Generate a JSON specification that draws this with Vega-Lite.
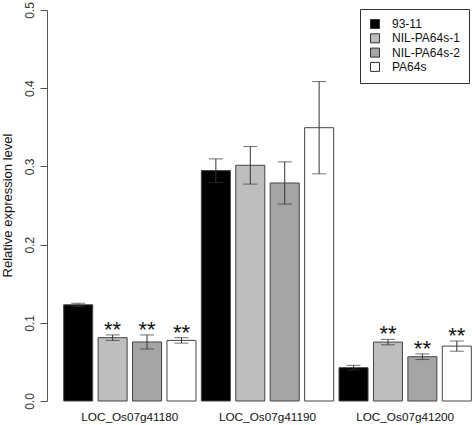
{
  "$schema": "https://vega.github.io/schema/vega-lite/v6.json",
  "width": 425,
  "height": 391,
  "autosize": "none",
  "padding": {"left": 47, "top": 10, "right": 0, "bottom": 24},
  "background": "white",
  "config": {"view": {"stroke": null}, "font": "Liberation Sans"},
  "data": {"values": [
    {"gene": "LOC_Os07g41180", "genotype": "93-11", "value": 0.123, "lo": 0.121, "hi": 0.125, "sig": ""},
    {"gene": "LOC_Os07g41180", "genotype": "NIL-PA64s-1", "value": 0.081, "lo": 0.0775, "hi": 0.0845, "sig": "**"},
    {"gene": "LOC_Os07g41180", "genotype": "NIL-PA64s-2", "value": 0.0755, "lo": 0.0665, "hi": 0.0845, "sig": "**"},
    {"gene": "LOC_Os07g41180", "genotype": "PA64s", "value": 0.0775, "lo": 0.074, "hi": 0.081, "sig": "**"},
    {"gene": "LOC_Os07g41190", "genotype": "93-11", "value": 0.2946, "lo": 0.2796, "hi": 0.3096, "sig": ""},
    {"gene": "LOC_Os07g41190", "genotype": "NIL-PA64s-1", "value": 0.3014, "lo": 0.2774, "hi": 0.3254, "sig": ""},
    {"gene": "LOC_Os07g41190", "genotype": "NIL-PA64s-2", "value": 0.2788, "lo": 0.2518, "hi": 0.3058, "sig": ""},
    {"gene": "LOC_Os07g41190", "genotype": "PA64s", "value": 0.3495, "lo": 0.2905, "hi": 0.4085, "sig": ""},
    {"gene": "LOC_Os07g41200", "genotype": "93-11", "value": 0.0426, "lo": 0.0396, "hi": 0.0456, "sig": ""},
    {"gene": "LOC_Os07g41200", "genotype": "NIL-PA64s-1", "value": 0.0753, "lo": 0.0718, "hi": 0.0788, "sig": "**"},
    {"gene": "LOC_Os07g41200", "genotype": "NIL-PA64s-2", "value": 0.0566, "lo": 0.053, "hi": 0.0602, "sig": "**"},
    {"gene": "LOC_Os07g41200", "genotype": "PA64s", "value": 0.0702, "lo": 0.0637, "hi": 0.0767, "sig": "**"}
  ]},
  "encoding": {
    "x": {
      "field": "gene", "type": "nominal", "sort": null,
      "scale": {"type": "band", "range": [14, 427], "paddingInner": 0, "paddingOuter": 0},
      "axis": {"title": null, "domain": false, "ticks": false, "labelAngle": 0, "labelFontSize": 11.75, "labelColor": "#111", "labelPadding": 10, "labelBaseline": "top", "labelFont": "Liberation Sans"}
    },
    "xOffset": {
      "field": "genotype", "type": "nominal", "sort": ["93-11", "NIL-PA64s-1", "NIL-PA64s-2", "PA64s"],
      "scale": {"paddingInner": 0.157, "paddingOuter": 0.078}
    }
  },
  "layer": [
    {
      "mark": {"type": "bar", "stroke": "#444", "strokeWidth": 1},
      "encoding": {
        "y": {
          "field": "value", "type": "quantitative",
          "scale": {"domain": [0, 0.5], "nice": false, "zero": true},
          "axis": {
            "title": "Relative expression level", "titleFontSize": 13, "titleFontWeight": "normal", "titleColor": "#111",
            "titleAngle": -90, "titleX": -36, "titleY": 195, "titleAlign": "center", "titleBaseline": "alphabetic",
            "values": [0, 0.1, 0.2, 0.3, 0.4, 0.5], "format": ".1f", "labelAngle": -90, "labelAlign": "center", "labelBaseline": "alphabetic",
            "labelFontSize": 12, "labelColor": "#333", "labelPadding": 7, "tickSize": 7, "tickColor": "#555", "domainColor": "#555", "grid": false
          }
        },
        "fill": {
          "field": "genotype", "type": "nominal", "sort": ["93-11", "NIL-PA64s-1", "NIL-PA64s-2", "PA64s"],
          "scale": {"domain": ["93-11", "NIL-PA64s-1", "NIL-PA64s-2", "PA64s"], "range": ["#000000", "#bebebe", "#a5a5a5", "#ffffff"]},
          "legend": {
            "title": null, "orient": "none", "legendX": 313, "legendY": -1,
            "strokeColor": "#333", "fillColor": "white", "padding": 9,
            "symbolType": "square", "symbolSize": 81, "symbolStrokeColor": "#333", "symbolStrokeWidth": 1,
            "labelFontSize": 12, "labelColor": "#111", "rowPadding": 0.3, "labelOffset": 11, "labelLimit": 200
          }
        }
      }
    },
    {
      "mark": {"type": "rule", "stroke": "#333", "strokeWidth": 1},
      "encoding": {"y": {"field": "lo", "type": "quantitative"}, "y2": {"field": "hi"}}
    },
    {
      "mark": {"type": "tick", "orient": "horizontal", "size": 14, "thickness": 1, "color": "#333"},
      "encoding": {"y": {"field": "lo", "type": "quantitative"}}
    },
    {
      "mark": {"type": "tick", "orient": "horizontal", "size": 14, "thickness": 1, "color": "#333"},
      "encoding": {"y": {"field": "hi", "type": "quantitative"}}
    },
    {
      "mark": {"type": "text", "fontSize": 22, "baseline": "alphabetic", "dy": 2, "color": "#111"},
      "encoding": {"y": {"field": "hi", "type": "quantitative"}, "text": {"field": "sig"}}
    }
  ]
}
